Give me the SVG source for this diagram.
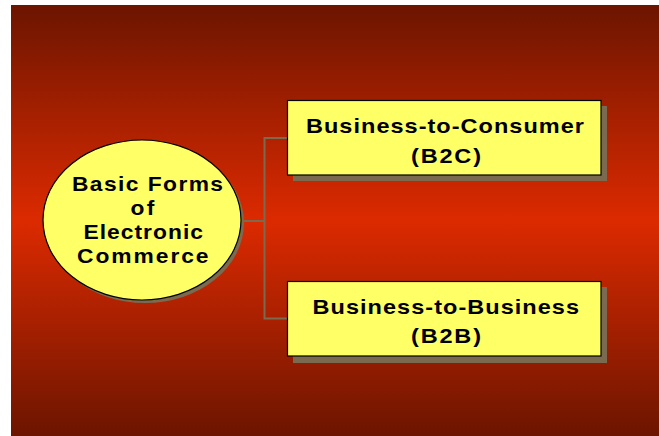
<svg xmlns="http://www.w3.org/2000/svg" width="659" height="436" viewBox="0 0 659 436">
  <defs>
    <linearGradient id="bg" x1="0" y1="0" x2="0" y2="1">
      <stop offset="0" stop-color="#6c1500"/>
      <stop offset="0.5" stop-color="#dc2a00"/>
      <stop offset="1" stop-color="#6c1500"/>
    </linearGradient>
    <style>
      .shadow { fill: #7a6a50; }
      .node { fill: #ffff66; stroke: #000000; stroke-width: 1.2; }
      .conn { fill: none; stroke: #7a6a50; stroke-width: 2; }
      text { font-family: "Liberation Sans", Arial, sans-serif; font-weight: bold; fill: #000000; }
      .t20 { font-size: 20px; }
      .t21 { font-size: 21px; }
    </style>
  </defs>
  <rect x="0" y="0" width="659" height="436" fill="#ffffff"/>
  <rect x="11" y="5" width="648" height="431" fill="url(#bg)"/>

  <g id="connectors">
    <polyline class="conn" points="288,138 264.5,138 264.5,318.5 288,318.5"/>
    <line class="conn" x1="240" y1="221" x2="264.5" y2="221"/>
  </g>

  <g id="root">
    <ellipse class="shadow" cx="145" cy="223" rx="99" ry="80"/>
    <ellipse class="node" cx="142" cy="220" rx="99" ry="80"/>
    <text class="t20" transform="translate(72,191) scale(1.14,1)" x="0" y="0" textLength="132.5" lengthAdjust="spacing">Basic Forms</text>
    <text class="t20" transform="translate(130.5,215) scale(1.14,1)" x="0" y="0" textLength="21" lengthAdjust="spacing">of</text>
    <text class="t20" transform="translate(83.5,239) scale(1.14,1)" x="0" y="0" textLength="104.8" lengthAdjust="spacing">Electronic</text>
    <text class="t20" transform="translate(77,263) scale(1.14,1)" x="0" y="0" textLength="115.4" lengthAdjust="spacing">Commerce</text>
  </g>

  <g id="b2c">
    <rect class="shadow" x="293" y="106" width="314" height="75"/>
    <rect class="node" x="287.5" y="100.5" width="313.5" height="74.5"/>
    <text class="t21" transform="translate(306,133) scale(1.12,1)" x="0" y="0" textLength="248.2" lengthAdjust="spacing">Business-to-Consumer</text>
    <text class="t21" transform="translate(411,163) scale(1.12,1)" x="0" y="0" textLength="62.5" lengthAdjust="spacing">(B2C)</text>
  </g>

  <g id="b2b">
    <rect class="shadow" x="293" y="287" width="314" height="76"/>
    <rect class="node" x="287.5" y="281.5" width="313.5" height="74.5"/>
    <text class="t21" transform="translate(312.5,314) scale(1.12,1)" x="0" y="0" textLength="238" lengthAdjust="spacing">Business-to-Business</text>
    <text class="t21" transform="translate(411,342.5) scale(1.12,1)" x="0" y="0" textLength="62.5" lengthAdjust="spacing">(B2B)</text>
  </g>
</svg>
